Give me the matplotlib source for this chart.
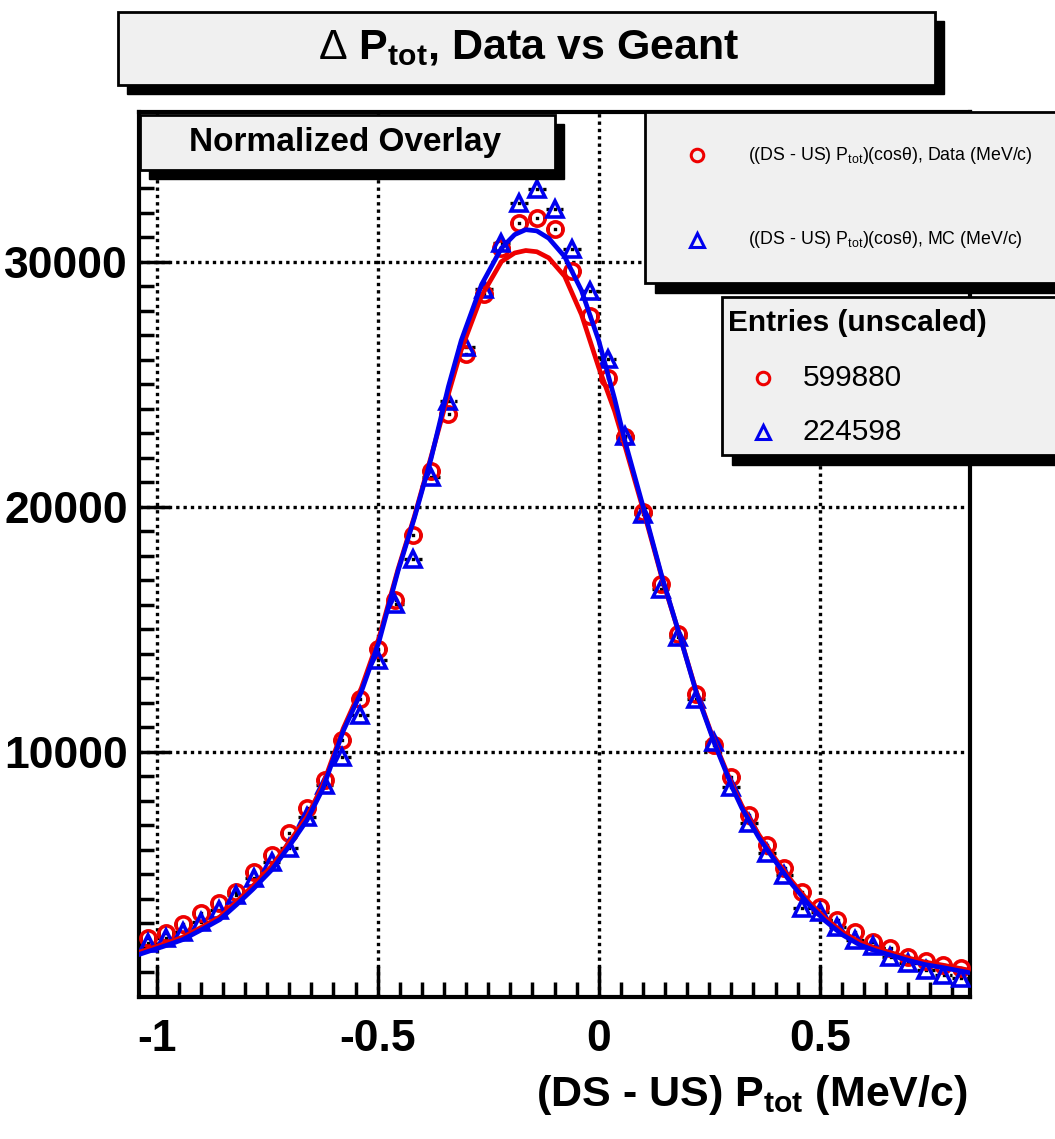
import matplotlib.pyplot as plt
from matplotlib.patches import Rectangle

plt.rcParams['font.family'] = ['Liberation Sans', 'DejaVu Sans']
plt.rcParams['mathtext.fontset'] = 'custom'
plt.rcParams['mathtext.rm'] = 'Liberation Sans'
plt.rcParams['mathtext.it'] = 'Liberation Sans'
plt.rcParams['mathtext.bf'] = 'Liberation Sans:bold'

# bin centres (MeV/c)
bin_x = [-1.02, -0.98, -0.94, -0.90, -0.86, -0.82, -0.78, -0.74, -0.70, -0.66,
         -0.62, -0.58, -0.54, -0.50, -0.46, -0.42, -0.38, -0.34, -0.30, -0.26,
         -0.22, -0.18, -0.14, -0.10, -0.06, -0.02, 0.02, 0.06, 0.10, 0.14,
         0.18, 0.22, 0.26, 0.30, 0.34, 0.38, 0.42, 0.46, 0.50, 0.54,
         0.58, 0.62, 0.66, 0.70, 0.74, 0.78, 0.82]

# normalized counts, data (red circles) and MC (blue triangles)
data_y = [2395, 2600, 2965, 3410, 3820, 4300, 5110, 5800, 6670, 7690,
          8860, 10490, 12170, 14210, 16180, 18830, 21470, 23780, 26220, 28670,
          30570, 31590, 31790, 31310, 29620, 27790, 25270, 22830, 19770, 16850,
          14820, 12370, 10270, 8980, 7420, 6200, 5250, 4300, 3690, 3140,
          2670, 2260, 1990, 1650, 1450, 1310, 1170]
mc_y = [2190, 2395, 2670, 3075, 3565, 4175, 4840, 5520, 6060, 7350,
        8655, 9800, 11490, 13730, 16040, 17870, 21200, 24320, 26500, 28870,
        30770, 32400, 32940, 32130, 30500, 28800, 26020, 22900, 19700, 16650,
        14680, 12170, 10400, 8570, 7080, 5860, 4980, 3620, 3480, 2870,
        2330, 2060, 1650, 1380, 1110, 900, 770]

# fit curves
fit_x = [-1.039, -0.982, -0.941, -0.898, -0.857, -0.819, -0.782, -0.739, -0.698, -0.660,
         -0.624, -0.578, -0.537, -0.497, -0.454, -0.417, -0.379, -0.340, -0.311, -0.265,
         -0.220, -0.190, -0.165, -0.140, -0.113, -0.077, -0.039, 0.000, 0.036, 0.059, 0.102,
         0.143, 0.184, 0.222, 0.263, 0.302, 0.324, 0.363, 0.399, 0.438, 0.476,
         0.512, 0.551, 0.590, 0.626, 0.664, 0.703, 0.739, 0.778, 0.839]
fit_data = [1830, 2170, 2440, 2850, 3270, 3890, 4540, 5350, 6370, 7350,
            8650, 10950, 12600, 14650, 17450, 19600, 22050, 24600, 26400, 28600,
            30000, 30350, 30450, 30400, 30150, 29400, 27840, 25680, 23900, 22500, 19800,
            17100, 14700, 12400, 10350, 8650, 7800, 6600, 5650, 4700, 3870,
            3220, 2650, 2240, 1990, 1790, 1580, 1420, 1300, 1090]
fit_mc = [1740, 2080, 2340, 2750, 3160, 3770, 4400, 5200, 6210, 7210,
          8500, 10850, 12450, 14500, 17380, 19540, 21980, 24900, 26780, 29060,
          30550, 31100, 31300, 31250, 30950, 30200, 28820, 26780, 24400, 22700, 19900,
          17150, 14700, 12350, 10300, 8550, 7700, 6480, 5550, 4580, 3760,
          3110, 2540, 2130, 1890, 1690, 1480, 1320, 1200, 990]

x_ticks = [-1, -0.5, 0, 0.5]
x_labels = ['-1', '-0.5', '0', '0.5']
y_ticks = [10000, 20000, 30000]
y_labels = ['10000', '20000', '30000']
entries = ['599880', '224598']

RED = '#ee0000'
BLUE = '#0000ee'
W, H = 1055, 1139

fig = plt.figure(figsize=(W / 100, H / 100), dpi=100)
ax = fig.add_axes([139 / W, (H - 997) / H, 831 / W, 885 / H])

# bin width error bars (black dotted)
for y in (data_y, mc_y):
    eb = ax.errorbar(bin_x, y, xerr=0.02, fmt='none', ecolor='black', elinewidth=2.4, zorder=2)
    for c in eb[2]:
        c.set_linestyle((0, (1, 1.2)))

ax.plot(bin_x, data_y, 'o', ms=11, mfc='none', mec=RED, mew=2.6, zorder=3)
ax.plot(bin_x, mc_y, '^', ms=12, mfc='none', mec=BLUE, mew=2.6, zorder=3)
ax.plot(fit_x, fit_data, '-', color=RED, lw=3.4, zorder=4)
ax.plot(fit_x, fit_mc, '-', color=BLUE, lw=3.4, zorder=5)

ax.set_xlim(-1.04, 0.84)
ax.set_ylim(0, 36100)
ax.set_xticks(x_ticks)
ax.set_xticklabels(x_labels)
ax.set_yticks(y_ticks)
ax.set_yticklabels(y_labels)
ax.set_xticks([t / 100 for t in range(-100, 85, 5)], minor=True)
ax.set_yticks(list(range(1000, 36000, 1000)), minor=True)
ax.tick_params(which='major', direction='in', length=22, width=2.5, labelsize=32, pad=8)
ax.tick_params(axis='x', which='major', pad=16, labelsize=32)
ax.tick_params(which='minor', direction='in', length=11, width=2.5)
for lab in ax.get_xticklabels() + ax.get_yticklabels():
    lab.set_fontweight('bold')
ax.grid(True, which='major', color='black', lw=2.4, linestyle=(0, (1, 1.2)))
for s in ax.spines.values():
    s.set_linewidth(3)

# overlay in pixel coordinates for the ROOT style boxes
ov = fig.add_axes([0, 0, 1, 1], zorder=10)
ov.set_xlim(0, W)
ov.set_ylim(H, 0)
ov.axis('off')


def box(x0, y0, x1, y1, sh=9):
    ov.add_patch(Rectangle((x0 + sh, y0 + sh), x1 - x0, y1 - y0, color='black'))
    ov.add_patch(Rectangle((x0, y0), x1 - x0, y1 - y0, facecolor='#f0f0f0',
                           edgecolor='black', lw=2))


box(118, 12, 935, 85)
ov.text(529, 48, r'$\Delta$ P$_{\mathbf{tot}}$, Data vs Geant', fontsize=31,
        fontweight='bold', ha='center', va='center')

box(140, 115, 555, 170)
ov.text(345, 142, 'Normalized Overlay', fontsize=24, fontweight='bold',
        ha='center', va='center')

box(645, 112, 1065, 283, sh=10)
ov.plot([697], [155], 'o', ms=9, mfc='none', mec=RED, mew=2.2)
ov.plot([697], [240], '^', ms=10, mfc='none', mec=BLUE, mew=2.2)
ov.text(748, 155, r'((DS - US) P$_{\mathrm{tot}}$)(cos$\theta$), Data (MeV/c)',
        fontsize=12.8, ha='left', va='center')
ov.text(748, 240, r'((DS - US) P$_{\mathrm{tot}}$)(cos$\theta$), MC (MeV/c)',
        fontsize=12.8, ha='left', va='center')

box(722, 297, 1065, 455, sh=10)
ov.text(728, 323, 'Entries (unscaled)', fontsize=21.5, fontweight='bold',
        ha='left', va='center')
ov.plot([763], [378], 'o', ms=9, mfc='none', mec=RED, mew=2.2)
ov.plot([763], [432], '^', ms=10, mfc='none', mec=BLUE, mew=2.2)
ov.text(803, 378, entries[0], fontsize=21.5, ha='left', va='center')
ov.text(803, 432, entries[1], fontsize=21.5, ha='left', va='center')

ov.text(968, 1095, r'(DS - US) P$_{\mathbf{tot}}$ (MeV/c)', fontsize=31,
        fontweight='bold', ha='right', va='center')

fig.savefig('out.png', dpi=100)
